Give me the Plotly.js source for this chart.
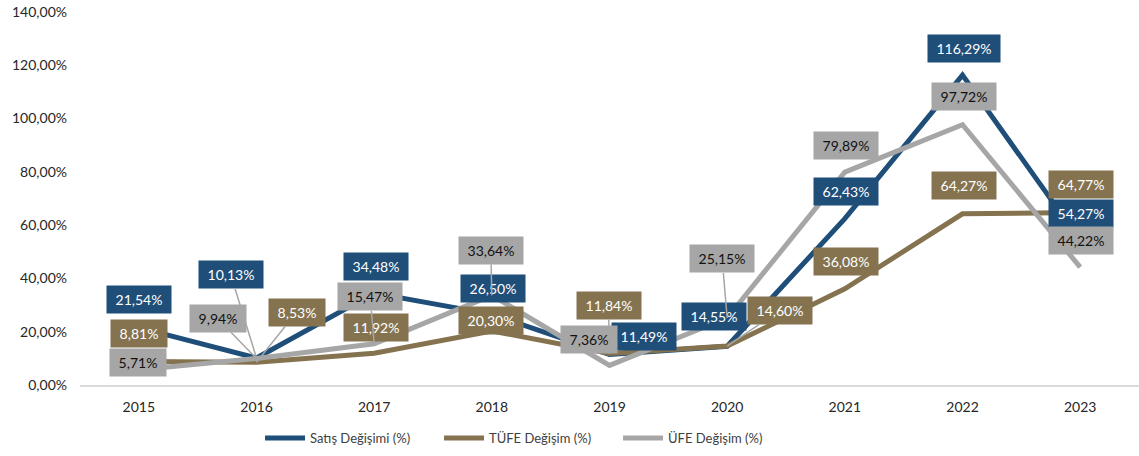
<!DOCTYPE html>
<html>
<head>
<meta charset="utf-8">
<script src="https://cdn.plot.ly/plotly-3.0.1.min.js"></script>
<style>html,body{margin:0;padding:0;background:#fff;}</style>
</head>
<body>
<div id="chart" style="width:1139px;height:456px;"></div>
<script>
// ---- data ----
const years = ['2015','2016','2017','2018','2019','2020','2021','2022','2023'];
const satis = [21.54, 10.13, 34.48, 26.50, 11.49, 14.55, 62.43, 116.29, 54.27];
const tufe  = [8.81, 8.53, 11.92, 20.30, 11.84, 14.60, 36.08, 64.27, 64.77];
const ufe   = [5.71, 9.94, 15.47, 33.64, 7.36, 25.15, 79.89, 97.72, 44.22];
const seriesNames = ['Satış Değişimi (%)', 'TÜFE Değişim (%)', 'ÜFE Değişim (%)'];

// ---- styling / label placement (pixel offsets from data point) ----
const colors = ['#1F4E79', '#857350', '#A6A6A6'];
const labelTextColors = ['#FFFFFF', '#FFFFFF', '#111111'];
const satisOff = [[0,-28],[-26,-84],[2,-27],[1,-26],[34,-18],[-13,-30],[1,-27],[1,-27],[1,-27]];
const tufeOff  = [[0,-28],[40,-50],[2,-26],[-1,-10],[-1,-48],[53,-36],[1,-27],[1,-28],[1,-28]];
const ufeOff   = [[-1,-7],[-39,-40],[-4,-47],[-1,-45],[-21,-26],[-5,-59],[1,-27],[1,-28],[1,-27]];
const satisLead = [0,1,0,0,0,0,0,0,0];
const tufeLead  = [0,1,0,0,1,1,0,0,0];
const ufeLead   = [0,1,1,1,0,1,0,0,0];

const allVals = [satis, tufe, ufe];
const allOff = [satisOff, tufeOff, ufeOff];
const allLead = [satisLead, tufeLead, ufeLead];

function fmt(v){ return v.toFixed(2).replace('.', ',') + '%'; }

const traces = allVals.map((vals, s) => ({
  type: 'scatter', mode: 'lines', x: years, y: vals, name: seriesNames[s],
  line: {color: colors[s], width: 5}, hoverinfo: 'skip'
}));

const annotations = [];
allVals.forEach((vals, s) => {
  vals.forEach((v, i) => {
    const t = fmt(v);
    annotations.push({
      xref: 'x', yref: 'y', x: i, y: v,
      text: t, showarrow: true, arrowhead: 0, arrowwidth: 1.5,
      arrowcolor: allLead[s][i] ? '#A6A6A6' : 'rgba(255,255,255,0)',
      ax: allOff[s][i][0], ay: allOff[s][i][1],
      bgcolor: colors[s], borderpad: 4,
      width: 8 * t.length + 8, height: 19,
      font: {family: 'Lato', size: 14, color: labelTextColors[s]}
    });
  });
});

const layout = {
  width: 1139, height: 456,
  margin: {l: 80, r: 0, t: 12, b: 71},
  paper_bgcolor: '#FFFFFF', plot_bgcolor: '#FFFFFF',
  separators: ',.',
  font: {family: 'Lato', size: 14, color: '#404040'},
  xaxis: {
    type: 'category', range: [-0.5, 8.5], showgrid: false, zeroline: false,
    showline: true, linecolor: '#D9D9D9', linewidth: 2, ticks: '',
    tickfont: {size: 14, color: '#262626'}, ticklabelstandoff: 8
  },
  yaxis: {
    range: [0, 140], dtick: 20, tickformat: '.2f', ticksuffix: '%',
    showgrid: false, zeroline: false, showline: false, ticks: '',
    tickfont: {size: 14, color: '#262626'}, ticklabelstandoff: 12
  },
  showlegend: true,
  legend: {
    orientation: 'h', x: 0.17, xanchor: 'left', y: -0.142, yanchor: 'middle',
    font: {size: 13, color: '#404040'}, itemwidth: 40, traceorder: 'normal',
    entrywidth: 124, entrywidthmode: 'pixels'
  },
  annotations: annotations
};

Plotly.newPlot('chart', traces, layout, {displayModeBar: false});
</script>
</body>
</html>
